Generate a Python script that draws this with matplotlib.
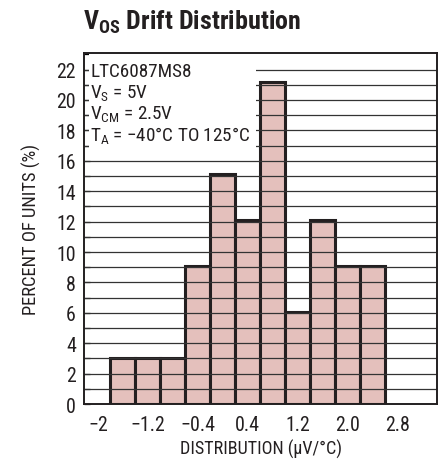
import matplotlib
matplotlib.use('Agg')
import matplotlib.pyplot as plt
from matplotlib.patches import Rectangle
from matplotlib.ticker import MultipleLocator
from matplotlib import font_manager

# histogram bins (centre of each 0.4 uV/C bin) and percent of units
bin_centers = [-1.6, -1.2, -0.8, -0.4, 0.0, 0.4, 0.8, 1.2, 1.6, 2.0, 2.4]
percent = [3.03, 3.03, 3.03, 9.09, 15.15, 12.12, 21.21, 6.06, 12.12, 9.09, 9.09]
bin_width = 0.4

xticks = [-2.0, -1.2, -0.4, 0.4, 1.2, 2.0, 2.8]
xticklabels = ['\u22122', '\u22121.2', '\u22120.4', '0.4', '1.2', '2.0', '2.8']
yticks = list(range(0, 23, 2))

# pick the narrowest sans family that is installed
installed = {f.name for f in font_manager.fontManager.ttflist}
base = 'DejaVu Sans'
for name in ['Liberation Sans Narrow', 'Roboto Condensed', 'Roboto', 'Liberation Sans']:
    if name in installed:
        base = name
        break

plt.rcParams['font.family'] = [base, 'DejaVu Sans']
plt.rcParams['mathtext.fontset'] = 'custom'
plt.rcParams['mathtext.rm'] = base
plt.rcParams['mathtext.it'] = base
plt.rcParams['mathtext.bf'] = base + ':bold'

fig = plt.figure(figsize=(4.45, 4.64), dpi=100)
ax = fig.add_axes([0.189, 0.127, 0.793, 0.757])

ax.bar(bin_centers, percent, width=bin_width, color='#e4c0bc',
       edgecolor='#231f20', linewidth=2.2, zorder=2)

# horizontal grid on every unit, drawn over the bars
for y in range(1, 23):
    ax.axhline(y, color='#333333', linewidth=0.9, zorder=3)

ax.set_xlim(-2.22, 3.43)
ax.set_ylim(0, 23.1)

# white block behind the conditions text
ax.add_patch(Rectangle((-2.14, 16.55), 2.67, 7.0, facecolor='white',
                       edgecolor='none', zorder=4))
cond = ['LTC6087MS8', r'$\mathregular{V_S}$ = 5V', r'$\mathregular{V_{CM}}$ = 2.5V',
        '$\\mathregular{T_A}$ = \u221240\u00b0C TO 125\u00b0C']
for i, line in enumerate(cond):
    ax.text(0.018, 0.949 - i * 0.0607, line, transform=ax.transAxes,
            fontsize=13.8, va='center', ha='left', zorder=5, color='#231f20')

ax.set_xticks(xticks)
ax.set_xticklabels(xticklabels)
ax.set_yticks(yticks)
ax.yaxis.set_minor_locator(MultipleLocator(1))
ax.tick_params(axis='x', length=0, labelsize=14.3, pad=8, labelcolor='#231f20')
ax.tick_params(axis='y', which='both', direction='in', length=4, width=0.9,
               labelsize=14.3, pad=6, labelcolor='#231f20')

for s in ax.spines.values():
    s.set_linewidth(1.4)
    s.set_color('#231f20')
    s.set_zorder(6)

ax.set_xlabel('DISTRIBUTION (\u00b5V/\u00b0C)', fontsize=13.1, labelpad=3, color='#231f20')
ax.set_ylabel('PERCENT OF UNITS (%)', fontsize=13.3, labelpad=11, color='#231f20')

fig.text(0.187, 0.935, r'$\mathbf{V_{OS}}$ Drift Distribution', fontsize=18.7,
         fontweight='bold', ha='left', va='baseline', color='#231f20')

plt.savefig('out.png', dpi=100)
plt.close()
